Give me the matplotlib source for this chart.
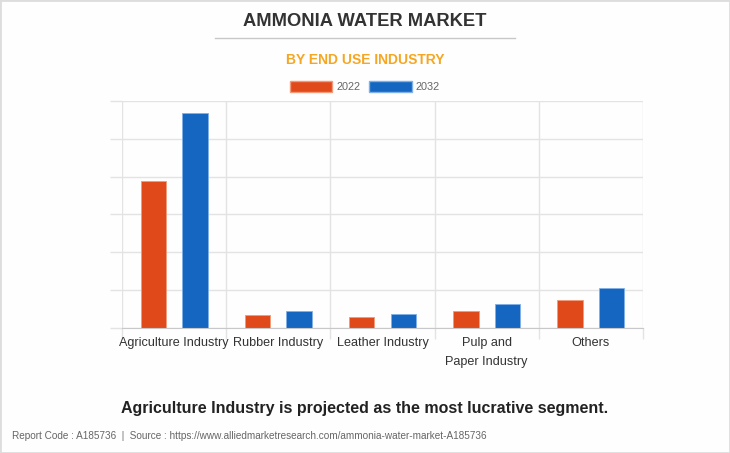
import matplotlib.pyplot as plt
import matplotlib.patches as mpatches
import numpy as np

plt.rcParams['font.family'] = ['Liberation Sans', 'DejaVu Sans']

# data (grid units, no axis labels in the source)
categories = ["Agriculture Industry", "Rubber Industry", "Leather Industry", "Pulp and\nPaper Industry", "Others"]
val_2022 = [3.89, 0.32, 0.28, 0.44, 0.73]
val_2032 = [5.69, 0.43, 0.35, 0.62, 1.04]
years = ["2022", "2032"]

orange = '#E0491A'
blue = '#1466C0'
grid_c = '#e3e3e3'

fig = plt.figure(figsize=(7.3, 4.53), dpi=100)
fig.patch.set_facecolor('#fefefe')
ax = fig.add_axes([122/730, 1-327.5/453, 521/730, 226.5/453])
ax.set_facecolor('#fefefe')

x = np.arange(len(categories))
w = 0.243
ax.bar(x-0.2, val_2022, w, color=orange, edgecolor='#f09a7a', linewidth=0.6, zorder=3)
ax.bar(x+0.2, val_2032, w, color=blue, edgecolor='#7fb0e8', linewidth=0.6, zorder=3)

ax.set_xlim(-0.5, len(categories)-0.5)
ax.set_ylim(0, 6)
ax.set_yticks(np.arange(0, 7, 1))
ax.set_yticklabels([])
ax.set_xticks(np.arange(-0.5, len(categories), 1), minor=False)
ax.set_xticklabels([])
ax.set_xticks(x, minor=True)
ax.set_xticklabels(categories, minor=True, fontsize=9.1, color='#333333', linespacing=1.8)
ax.tick_params(axis='x', which='minor', length=0, pad=6.5)
ax.tick_params(axis='x', which='major', length=8, color=grid_c, width=1)
ax.tick_params(axis='y', length=9, color=grid_c, width=1)
ax.grid(True, which='major', color=grid_c, linewidth=1, zorder=0)
for s in ['top', 'right', 'left']:
    ax.spines[s].set_visible(False)
ax.spines['bottom'].set_color('#c8c8c8')
ax.spines['bottom'].set_zorder(4)

# titles
fig.text(0.5, 1-21/453, "AMMONIA WATER MARKET", ha='center', va='center',
         fontsize=13.2, fontweight='bold', color='#333333')
fig.add_artist(plt.Line2D([215/730, 515/730], [1-37.5/453, 1-37.5/453], color='#c8c8c8', linewidth=1))
fig.text(0.5, 1-59.5/453, "BY END USE INDUSTRY", ha='center', va='center',
         fontsize=10, fontweight='bold', color='#F5A623')

# legend
h1 = mpatches.Patch(facecolor=orange, edgecolor='#f09a7a', label=years[0])
h2 = mpatches.Patch(facecolor=blue, edgecolor='#7fb0e8', label=years[1])
fig.legend(handles=[h1, h2], loc='center', bbox_to_anchor=(0.5, 1-86.5/453), ncol=2,
           frameon=False, fontsize=7.8, labelcolor='#666666', handlelength=3.9, handleheight=1.2,
           handletextpad=0.4, columnspacing=0.8)

fig.text(0.5, 1-408/453, "Agriculture Industry is projected as the most lucrative segment.",
         ha='center', va='center', fontsize=11.5, fontweight='bold', color='#222222')
fig.text(12/730, 1-436/453, "Report Code : A185736  |  Source : https://www.alliedmarketresearch.com/ammonia-water-market-A185736",
         ha='left', va='center', fontsize=7.2, color='#666666')

fig.add_artist(mpatches.Rectangle((0, 0), 1, 1, transform=fig.transFigure, fill=False,
                                  edgecolor='#dddddd', linewidth=2))

plt.savefig("out.png", dpi=100, facecolor=fig.get_facecolor())
